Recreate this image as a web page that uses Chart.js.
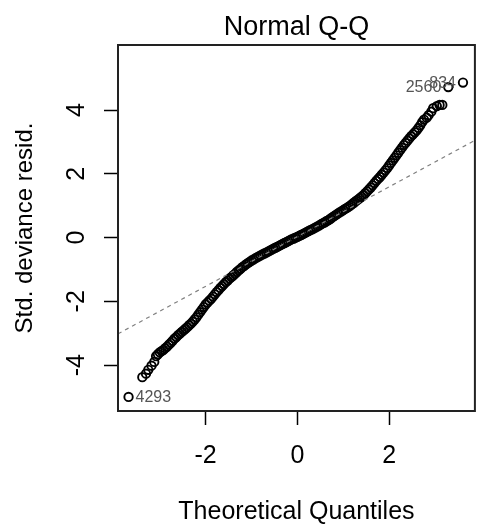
<!DOCTYPE html>
<html>
<head>
<meta charset="utf-8">
<script src="https://cdn.jsdelivr.net/npm/chart.js@4.4.1/dist/chart.umd.min.js"></script>
<style>
  body { margin: 0; background: #fff; }
  canvas { display: block; }
</style>
</head>
<body>
<canvas id="qqChart" width="481" height="525"></canvas>
<script>
// theoretical quantiles (x) and std. deviance residuals (y)
const theoQ = [
  -3.68, -3.38, -3.30, -3.25, -3.18, -3.12, -3.08, -3.04, -3.00, -2.96,
  -2.92, -2.88, -2.84, -2.80, -2.76, -2.72, -2.68, -2.64, -2.60, -2.56,
  -2.52, -2.48, -2.44, -2.40, -2.36, -2.32, -2.28, -2.24, -2.20, -2.16,
  -2.12, -2.08, -2.04, -2.00, -1.96, -1.92, -1.88, -1.84, -1.80, -1.76,
  -1.72, -1.68, -1.64, -1.60, -1.56, -1.52, -1.48, -1.44, -1.40, -1.36,
  -1.32, -1.28, -1.24, -1.20, -1.16, -1.12, -1.08, -1.04, -1.00, -0.96,
  -0.92, -0.88, -0.84, -0.80, -0.76, -0.72, -0.68, -0.64, -0.60, -0.56,
  -0.52, -0.48, -0.44, -0.40, -0.36, -0.32, -0.28, -0.24, -0.20, -0.16,
  -0.12, -0.08, -0.04, 0.00, 0.04, 0.08, 0.12, 0.16, 0.20, 0.24,
  0.28, 0.32, 0.36, 0.40, 0.44, 0.48, 0.52, 0.56, 0.60, 0.64,
  0.68, 0.72, 0.76, 0.80, 0.84, 0.88, 0.92, 0.96, 1.00, 1.04,
  1.08, 1.12, 1.16, 1.20, 1.24, 1.28, 1.32, 1.36, 1.40, 1.44,
  1.48, 1.52, 1.56, 1.60, 1.64, 1.68, 1.72, 1.76, 1.80, 1.84,
  1.88, 1.92, 1.96, 2.00, 2.04, 2.08, 2.12, 2.16, 2.20, 2.24,
  2.28, 2.32, 2.36, 2.40, 2.44, 2.48, 2.52, 2.56, 2.60, 2.64,
  2.68, 2.72, 2.76, 2.82, 2.86, 2.92, 2.96, 3.04, 3.10, 3.16,
  3.29, 3.61
];
const devResid = [
  -5.00, -4.38, -4.27, -4.15, -4.02, -3.90, -3.72, -3.66, -3.60, -3.56,
  -3.52, -3.47, -3.42, -3.36, -3.30, -3.24, -3.17, -3.12, -3.06, -3.01,
  -2.96, -2.91, -2.86, -2.81, -2.75, -2.70, -2.64, -2.57, -2.50, -2.42,
  -2.34, -2.26, -2.18, -2.10, -2.04, -1.98, -1.92, -1.85, -1.78, -1.71,
  -1.65, -1.58, -1.52, -1.46, -1.40, -1.35, -1.29, -1.24, -1.19, -1.14,
  -1.08, -1.03, -0.98, -0.93, -0.89, -0.84, -0.80, -0.76, -0.72, -0.69,
  -0.65, -0.62, -0.59, -0.56, -0.53, -0.50, -0.47, -0.44, -0.41, -0.38,
  -0.35, -0.32, -0.29, -0.26, -0.23, -0.20, -0.17, -0.14, -0.11, -0.08,
  -0.05, -0.03, 0.00, 0.02, 0.05, 0.08, 0.11, 0.14, 0.17, 0.20,
  0.23, 0.26, 0.29, 0.32, 0.35, 0.38, 0.42, 0.45, 0.48, 0.52,
  0.55, 0.59, 0.63, 0.67, 0.71, 0.75, 0.79, 0.82, 0.86, 0.90,
  0.93, 0.97, 1.01, 1.06, 1.10, 1.15, 1.19, 1.24, 1.28, 1.33,
  1.39, 1.45, 1.51, 1.57, 1.64, 1.71, 1.78, 1.84, 1.90, 1.97,
  2.04, 2.11, 2.18, 2.26, 2.34, 2.42, 2.50, 2.58, 2.66, 2.74,
  2.82, 2.90, 2.97, 3.04, 3.11, 3.18, 3.24, 3.30, 3.36, 3.44,
  3.52, 3.62, 3.70, 3.76, 3.84, 3.95, 4.06, 4.12, 4.16, 4.16,
  4.72, 4.86
];

const xTicks = [-2, 0, 2];
const yTicks = [-4, -2, 0, 2, 4];
const xLimits = [-3.91, 3.87];
const yLimits = [-5.44, 6.04];

// reference line through the quartiles
const lineIntercept = 0.03;
const lineSlope = 0.78;

// labelled extreme observations
const idIndex = [0, theoQ.length - 2, theoQ.length - 1];
const idText = ['4293', '2560', '834'];

const fontFamily = '"Liberation Sans", Arial, sans-serif';

const points = theoQ.map((x, i) => ({ x: x, y: devResid[i] }));
const refLine = xLimits.map(x => ({ x: x, y: lineIntercept + lineSlope * x }));

// box round the plot area and the id labels beside the points
const boxAndIds = {
  id: 'boxAndIds',
  afterDatasetsDraw(chart) {
    const ctx = chart.ctx;
    const a = chart.chartArea;
    ctx.save();
    ctx.strokeStyle = '#222';
    ctx.lineWidth = 2;
    ctx.strokeRect(a.left, a.top, a.right - a.left, a.bottom - a.top);

    const meta = chart.getDatasetMeta(1);
    ctx.font = '16px ' + fontFamily;
    ctx.fillStyle = '#555';
    ctx.textBaseline = 'middle';
    idIndex.forEach((idx, k) => {
      const p = meta.data[idx];
      const rightHalf = theoQ[idx] > (xLimits[0] + xLimits[1]) / 2;
      ctx.textAlign = rightHalf ? 'right' : 'left';
      ctx.fillText(idText[k], p.x + (rightHalf ? -7 : 7), p.y + 1);
    });
    ctx.restore();
  }
};

new Chart(document.getElementById('qqChart'), {
  type: 'scatter',
  data: {
    datasets: [
      {
        type: 'line',
        data: refLine,
        borderColor: '#808080',
        borderWidth: 1.2,
        borderDash: [4, 4],
        pointRadius: 0,
        fill: false
      },
      {
        data: points,
        pointStyle: 'circle',
        pointRadius: 4.2,
        pointBorderWidth: 1.9,
        pointBorderColor: '#000',
        pointBackgroundColor: 'rgba(0,0,0,0)'
      }
    ]
  },
  options: {
    responsive: false,
    animation: false,
    devicePixelRatio: 1,
    layout: { padding: { left: 0, right: 1, top: 0, bottom: 0 } },
    plugins: {
      legend: { display: false },
      tooltip: { enabled: false },
      title: { display: false }
    },
    scales: {
      x: {
        type: 'linear',
        position: 'bottom',
        min: xLimits[0],
        max: xLimits[1],
        afterBuildTicks: s => { s.ticks = xTicks.map(v => ({ value: v })); },
        afterFit: s => { s.height = 114; },
        border: { display: false },
        grid: {
          drawOnChartArea: false,
          drawTicks: true,
          tickLength: 14,
          tickColor: '#000',
          tickWidth: 1.5
        },
        ticks: {
          padding: 16,
          color: '#000',
          maxRotation: 0,
          font: { family: fontFamily, size: 25, lineHeight: 1.2 }
        },
        title: {
          display: true,
          text: 'Theoretical Quantiles',
          color: '#000',
          padding: 0,
          font: { family: fontFamily, size: 25, lineHeight: '26px' }
        }
      },
      xTop: {
        type: 'linear',
        position: 'top',
        min: xLimits[0],
        max: xLimits[1],
        afterFit: s => { s.height = 45; },
        border: { display: false },
        grid: { display: false },
        ticks: { display: false },
        title: {
          display: true,
          text: 'Normal Q-Q',
          color: '#000',
          padding: { top: 11.4, bottom: 0 },
          font: { family: fontFamily, size: 27, lineHeight: 1.2 }
        }
      },
      y: {
        type: 'linear',
        position: 'left',
        min: yLimits[0],
        max: yLimits[1],
        afterBuildTicks: s => { s.ticks = yTicks.map(v => ({ value: v })); },
        afterFit: s => { s.width = 118; },
        border: { display: false },
        grid: {
          drawOnChartArea: false,
          drawTicks: true,
          tickLength: 14,
          tickColor: '#000',
          tickWidth: 1.5
        },
        ticks: {
          padding: 16,
          color: '#000',
          minRotation: 90,
          maxRotation: 90,
          crossAlign: 'center',
          font: { family: fontFamily, size: 25, lineHeight: 1.2 }
        },
        title: {
          display: true,
          text: 'Std. deviance resid.',
          color: '#000',
          padding: { top: 10, bottom: 0 },
          font: { family: fontFamily, size: 24, lineHeight: '30px' }
        }
      }
    }
  },
  plugins: [boxAndIds]
});
</script>
</body>
</html>
